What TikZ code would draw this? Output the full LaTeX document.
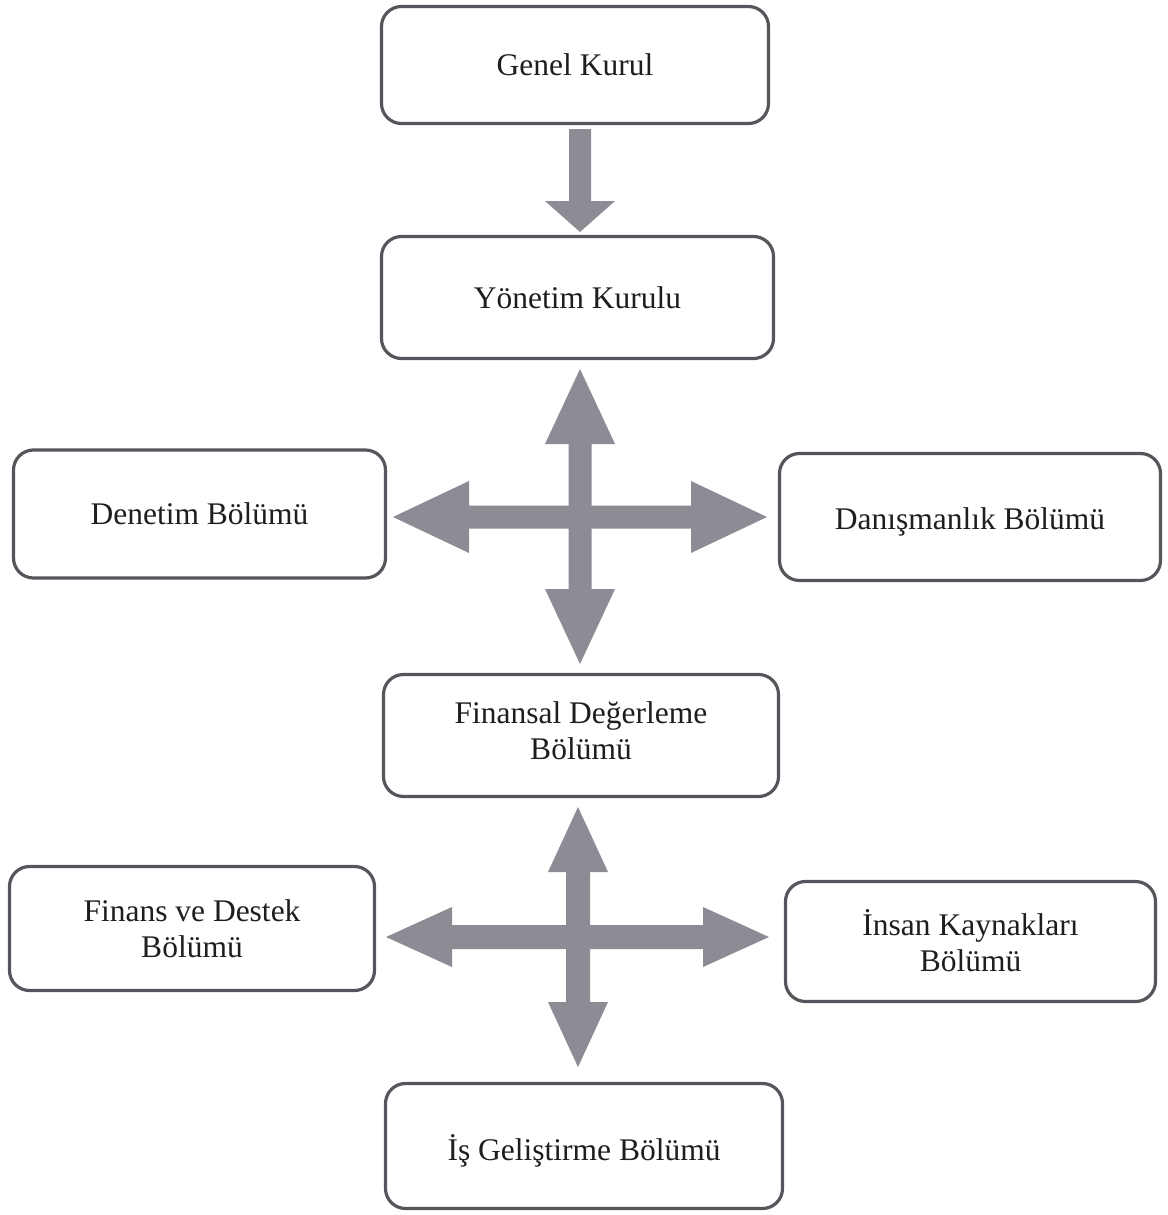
\documentclass[tikz,border=0pt]{standalone}
\usepackage{fontspec}
\setmainfont{Liberation Serif}
\definecolor{boxline}{RGB}{85,85,92}
\definecolor{arrowfill}{RGB}{140,140,148}
\definecolor{txt}{RGB}{30,30,30}
\begin{document}
\begin{tikzpicture}[x=1pt,y=-1pt,
  unitbox/.style={draw=boxline, line width=3.2pt, rounded corners=20pt, fill=white,
    inner sep=0pt},
  boxtext/.style={align=center, text=txt, inner sep=0pt,
    font=\fontsize{31.5}{36}\selectfont},
  blockarrow/.style={fill=arrowfill, draw=none}]
\useasboundingbox (0,0) rectangle (1167,1215);

\node[unitbox, minimum width=387pt, minimum height=117pt,
  label={[boxtext]center:Genel Kurul}] (gk) at (575,65) {};
\node[unitbox, minimum width=392pt, minimum height=122pt,
  label={[boxtext]center:Yönetim Kurulu}] (yk) at (577.5,297.5) {};
\node[unitbox, minimum width=372pt, minimum height=128pt,
  label={[boxtext]center:Denetim Bölümü}] (den) at (199.5,514) {};
\node[unitbox, minimum width=381pt, minimum height=127pt,
  label={[boxtext,yshift=-5pt]center:Danışmanlık Bölümü}] (dan) at (970,517) {};
\node[unitbox, minimum width=395pt, minimum height=122pt,
  label={[boxtext,yshift=5pt]center:Finansal Değerleme\\Bölümü}] (fin) at (581,735.5) {};
\node[unitbox, minimum width=365pt, minimum height=124pt,
  label={[boxtext]center:Finans ve Destek\\Bölümü}] (fd) at (192,928.5) {};
\node[unitbox, minimum width=370pt, minimum height=120pt,
  label={[boxtext,yshift=1pt]center:İnsan Kaynakları\\Bölümü}] (ik) at (970.5,941.5) {};
\node[unitbox, minimum width=397pt, minimum height=125pt,
  label={[boxtext,yshift=-5pt]center:İş Geliştirme Bölümü}] (ig) at (584,1146) {};

% single arrow Genel Kurul -> Yönetim Kurulu
\begin{scope}[shift={(580,129)}]
\fill[blockarrow] (-11,0) -- (11,0) -- (11,72) -- (35,72) -- (0,103) -- (-35,72) -- (-11,72) -- cycle;
\end{scope}

% cross 1
\coordinate (c1) at (580,517);
\begin{scope}[shift={(c1)}]
\fill[blockarrow] (0,-148) -- (35,-73) -- (11.5,-73) -- (11.5,-11.5) -- (111,-11.5) -- (111,-36)
  -- (187,0) -- (111,36) -- (111,11.5) -- (11.5,11.5) -- (11.5,72) -- (35,72) -- (0,147)
  -- (-35,72) -- (-11.5,72) -- (-11.5,11.5) -- (-111,11.5) -- (-111,36) -- (-187,0)
  -- (-111,-36) -- (-111,-11.5) -- (-11.5,-11.5) -- (-11.5,-73) -- (-35,-73) -- cycle;
\end{scope}

% cross 2
\coordinate (c2) at (578,937);
\begin{scope}[shift={(c2)}]
\fill[blockarrow] (0,-130) -- (30,-65) -- (12,-65) -- (12,-12) -- (125,-12) -- (125,-30)
  -- (191,0) -- (125,30) -- (125,12) -- (12,12) -- (12,65) -- (30,65) -- (0,130)
  -- (-30,65) -- (-12,65) -- (-12,12) -- (-126,12) -- (-126,30) -- (-192,0)
  -- (-126,-30) -- (-126,-12) -- (-12,-12) -- (-12,-65) -- (-30,-65) -- cycle;
\end{scope}
\end{tikzpicture}
\end{document}
